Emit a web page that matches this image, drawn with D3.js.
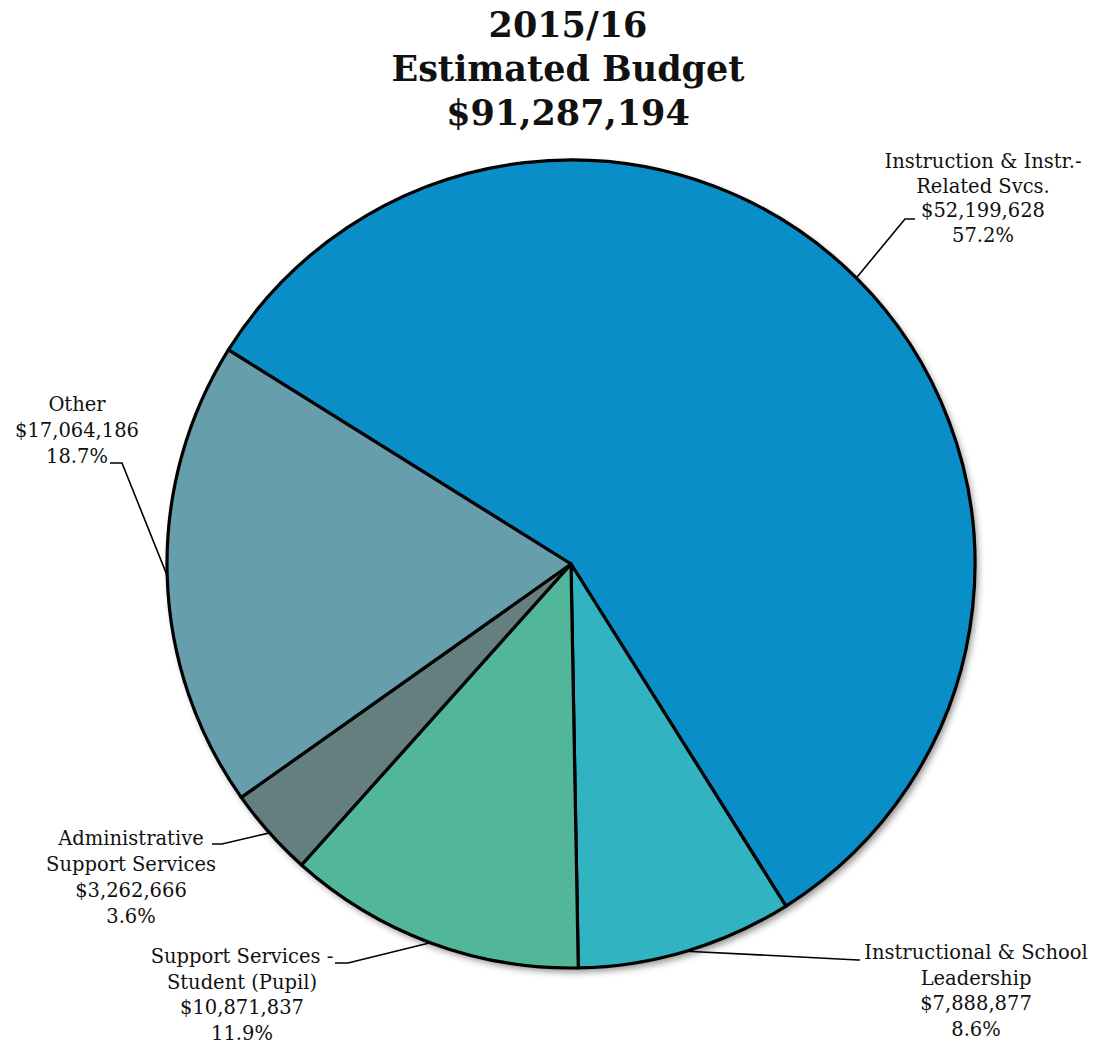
<!DOCTYPE html>
<html>
<head>
<meta charset="utf-8">
<script src="https://cdn.jsdelivr.net/npm/d3@7"></script>
<style>
  html, body { margin: 0; padding: 0; background: #fff; }
  svg { display: block; }
</style>
</head>
<body>
<svg id="chart" width="1102" height="1043"></svg>
<script>
// Budget categories, in drawing order (clockwise)
const categories = [
  ["Instruction & Instr.-", "Related Svcs."],
  ["Instructional & School", "Leadership"],
  ["Support Services -", "Student (Pupil)"],
  ["Administrative", "Support Services"],
  ["Other"]
];
const amounts = [52199628, 7888877, 10871837, 3262666, 17064186];
const sliceColors = ["#0a8ec7", "#31b3c1", "#52b79a", "#657e7f", "#669eab"];
const titleLines = ["2015/16", "Estimated Budget"];

// Label layout: text anchor (centre x, first baseline), leader elbow and end
const labelLayout = [
  { x: 983, y: 168, gap: 24.5, elbow: [905, 219], end: [915, 219] },
  { x: 976, y: 959, gap: 25.5, elbow: [858, 960], end: [860, 960] },
  { x: 242, y: 963, gap: 25.5, elbow: [348, 963], end: [335, 963] },
  { x: 131, y: 845, gap: 26,   elbow: [222, 844], end: [212, 844] },
  { x: 77,  y: 411, gap: 26,   elbow: [122, 463], end: [110, 463] }
];

const W = 1102, H = 1043;
const cx = 571, cy = 564, R = 404;
const svg = d3.select("#chart");

const fmtMoney = d3.format("$,");
const fmtPct = d3.format(".1%");
const total = d3.sum(amounts);

// Soft shadow under the pie
const defs = svg.append("defs");
const f = defs.append("filter").attr("id", "pieShadow")
  .attr("x", "-10%").attr("y", "-10%").attr("width", "120%").attr("height", "120%");
f.append("feDropShadow").attr("dx", 3).attr("dy", 4)
  .attr("stdDeviation", 3.5).attr("flood-color", "#000").attr("flood-opacity", 0.45);

// Title
const title = svg.append("text")
  .attr("x", 568).attr("text-anchor", "middle")
  .attr("font-family", "'DejaVu Serif', serif").attr("font-weight", "bold")
  .attr("font-size", 35).attr("fill", "#111");
[...titleLines, fmtMoney(total)].forEach((t, i) => {
  title.append("tspan").attr("x", 568).attr("y", 37 + i * 44).text(t);
});

// Pie
const pie = d3.pie().sort(null).value(d => d)
  .startAngle(-58 * Math.PI / 180).endAngle(-58 * Math.PI / 180 + 2 * Math.PI);
const arcs = pie(amounts);
const arc = d3.arc().innerRadius(0).outerRadius(R);

const g = svg.append("g").attr("transform", `translate(${cx},${cy})`);
g.append("circle").attr("r", R).attr("fill", "#fff").attr("filter", "url(#pieShadow)");
g.selectAll("path.slice").data(arcs).join("path")
  .attr("class", "slice")
  .attr("d", arc)
  .attr("fill", (d, i) => sliceColors[i])
  .attr("stroke", "#000")
  .attr("stroke-width", 3.2)
  .attr("stroke-linejoin", "round");

// Leader lines from the middle of each slice's rim
arcs.forEach((d, i) => {
  const mid = (d.startAngle + d.endAngle) / 2;
  const sx = cx + R * Math.sin(mid), sy = cy - R * Math.cos(mid);
  const L = labelLayout[i];
  svg.append("polyline")
    .attr("points", [[sx, sy], L.elbow, L.end].map(p => p.join(",")).join(" "))
    .attr("fill", "none").attr("stroke", "#000").attr("stroke-width", 1.6);
});

// Labels: name lines, amount, share
arcs.forEach((d, i) => {
  const L = labelLayout[i];
  const lines = [...categories[i], fmtMoney(amounts[i]), fmtPct(amounts[i] / total)];
  const t = svg.append("text")
    .attr("text-anchor", "middle")
    .attr("font-family", "'DejaVu Serif', serif")
    .attr("font-size", 19.5).attr("fill", "#111");
  lines.forEach((s, k) => {
    t.append("tspan").attr("x", L.x).attr("y", L.y + k * L.gap).text(s);
  });
});
</script>
</body>
</html>
